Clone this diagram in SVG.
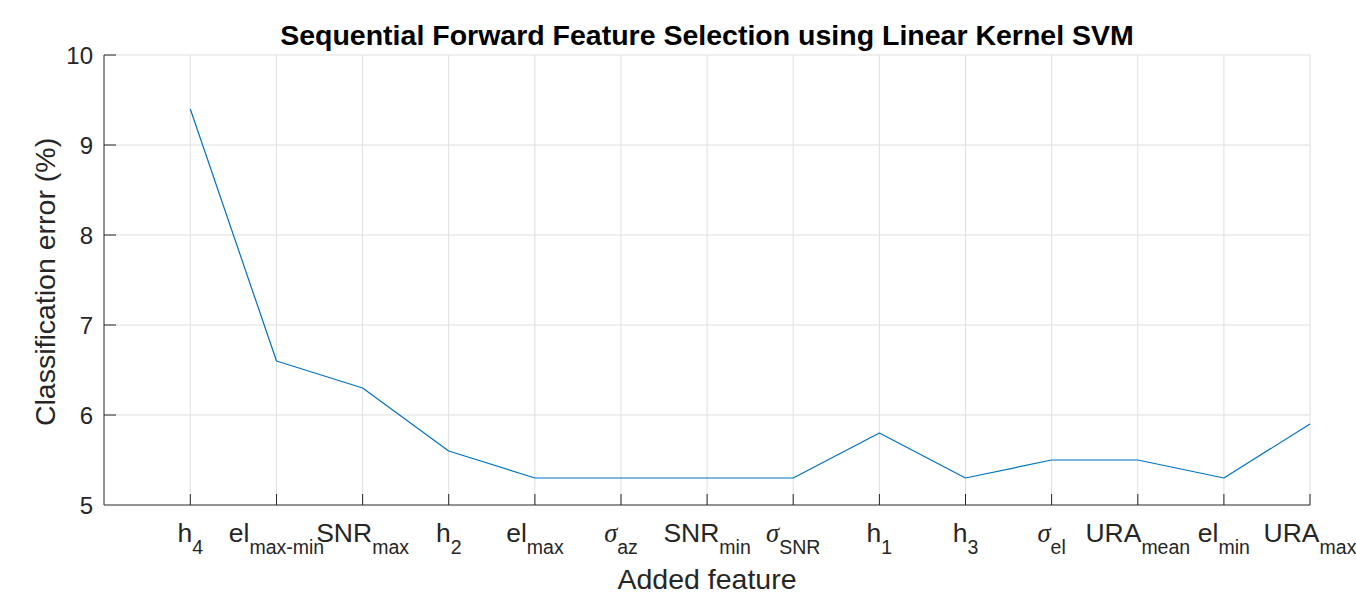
<svg xmlns="http://www.w3.org/2000/svg" width="1356" height="592" viewBox="0 0 1356 592">
<style>
.grid{stroke:#dfdfdf;stroke-width:1;fill:none}
.axis{stroke:#262626;stroke-width:1;fill:none}
.tl{font-family:"Liberation Sans",Arial,sans-serif;font-size:24px;fill:#262626}
.xt{font-family:"Liberation Sans",Arial,sans-serif;font-size:26.5px;fill:#262626;text-anchor:middle}
.sub{font-size:19.5px}
.sig{font-family:"Liberation Serif","Times New Roman",serif;font-style:italic}
.lab{font-family:"Liberation Sans",Arial,sans-serif;font-size:28.5px;fill:#262626;text-anchor:middle}
.title{font-family:"Liberation Sans",Arial,sans-serif;font-size:28.5px;font-weight:bold;fill:#000;text-anchor:middle}
.data{stroke:#0072BD;stroke-width:1.2;fill:none;stroke-linejoin:round}
</style>
<rect width="1356" height="592" fill="#fff"/>
<g id="grid" class="grid">
<path d="M104,55H1310M104,145H1310M104,235H1310M104,325H1310M104,415H1310"/>
<path d="M190.3,55V505M276.5,55V505M362.6,55V505M448.7,55V505M534.9,55V505M621,55V505M707.1,55V505M793.2,55V505M879.4,55V505M965.5,55V505M1051.6,55V505M1137.8,55V505M1223.9,55V505M1310,55V505"/>
</g>
<g id="axes" class="axis">
<path d="M104,55V505H1310"/>
<path d="M104,55H116M104,145H116M104,235H116M104,325H116M104,415H116"/>
<path d="M190.3,505V494M276.5,505V494M362.6,505V494M448.7,505V494M534.9,505V494M621,505V494M707.1,505V494M793.2,505V494M879.4,505V494M965.5,505V494M1051.6,505V494M1137.8,505V494M1223.9,505V494M1310,505V494"/>
</g>
<g id="yticks" class="tl" text-anchor="end">
<text x="93" y="63.6">10</text>
<text x="93" y="153.6">9</text>
<text x="93" y="243.6">8</text>
<text x="93" y="333.6">7</text>
<text x="93" y="423.6">6</text>
<text x="93" y="513.6">5</text>
</g>
<g id="xticks" class="xt">
<text x="190.3" y="542">h<tspan class="sub" dy="12">4</tspan></text>
<text x="276.5" y="542">el<tspan class="sub" dy="12">max-min</tspan></text>
<text x="362.6" y="542">SNR<tspan class="sub" dy="12">max</tspan></text>
<text x="448.7" y="542">h<tspan class="sub" dy="12">2</tspan></text>
<text x="534.9" y="542">el<tspan class="sub" dy="12">max</tspan></text>
<text x="621" y="542"><tspan class="sig">σ</tspan><tspan class="sub" dy="12">az</tspan></text>
<text x="707.1" y="542">SNR<tspan class="sub" dy="12">min</tspan></text>
<text x="793.2" y="542"><tspan class="sig">σ</tspan><tspan class="sub" dy="12">SNR</tspan></text>
<text x="879.4" y="542">h<tspan class="sub" dy="12">1</tspan></text>
<text x="965.5" y="542">h<tspan class="sub" dy="12">3</tspan></text>
<text x="1051.6" y="542"><tspan class="sig">σ</tspan><tspan class="sub" dy="12">el</tspan></text>
<text x="1137.8" y="542">URA<tspan class="sub" dy="12">mean</tspan></text>
<text x="1223.9" y="542">el<tspan class="sub" dy="12">min</tspan></text>
<text x="1310" y="542">URA<tspan class="sub" dy="12">max</tspan></text>
</g>
<g id="series">
<polyline class="data" points="190.3,109 276.5,361 362.6,388 448.7,451 534.9,478 621,478 707.1,478 793.2,478 879.4,433 965.5,478 1051.6,460 1137.8,460 1223.9,478 1310,424"/>
</g>
<g id="labels">
<text class="title" x="707" y="45">Sequential Forward Feature Selection using Linear Kernel SVM</text>
<text class="lab" x="707" y="588.5">Added feature</text>
<text class="lab" transform="translate(55,282) rotate(-90)">Classification error (%)</text>
</g>
</svg>
